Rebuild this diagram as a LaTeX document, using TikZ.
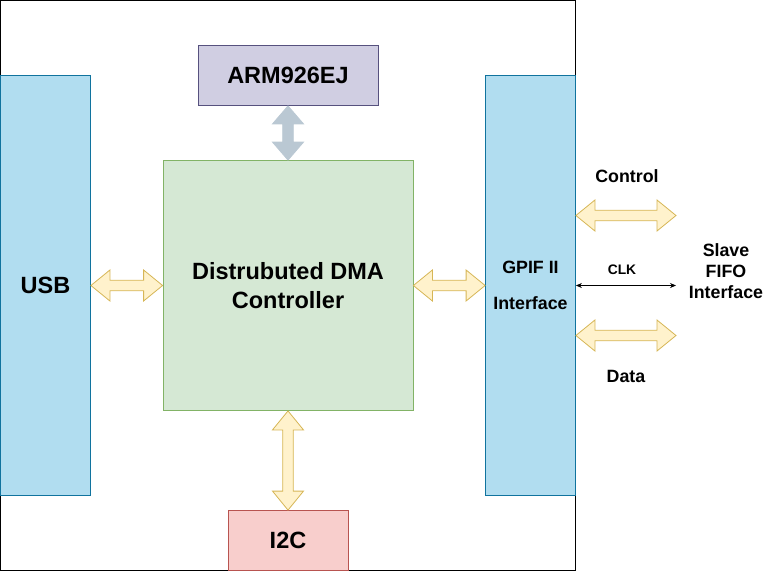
\documentclass[tikz,border=0pt]{standalone}
\usepackage{fontspec}
\setmainfont{Liberation Sans}
\usetikzlibrary{calc,arrows.meta}
\definecolor{bluef}{HTML}{B1DDF0}\definecolor{blued}{HTML}{10739E}
\definecolor{purf}{HTML}{D0CEE2}\definecolor{purd}{HTML}{56517E}
\definecolor{grnf}{HTML}{D5E8D4}\definecolor{grnd}{HTML}{82B366}
\definecolor{redf}{HTML}{F8CECC}\definecolor{redd}{HTML}{B85450}
\definecolor{yelf}{HTML}{FFF2CC}\definecolor{yeld}{HTML}{D6B656}
\definecolor{grayf}{HTML}{BAC8D3}
\newcommand{\hblock}[3]{%
 \path[#1] let \p1=(#2), \p2=(#3) in (\x1,\y1) -- (\x1+19pt,\y1+15.5pt) -- (\x1+19pt,\y1+5.3pt) -- (\x2-19pt,\y1+5.3pt) -- (\x2-19pt,\y1+15.5pt) -- (\x2,\y1) -- (\x2-19pt,\y1-15.5pt) -- (\x2-19pt,\y1-5.3pt) -- (\x1+19pt,\y1-5.3pt) -- (\x1+19pt,\y1-15.5pt) -- cycle;}
\newcommand{\vblock}[4]{%
 \path[#1] let \p1=(#2), \p2=(#3) in (\x1,\y1) -- (\x1+15.5pt,\y1-#4) -- (\x1+5.3pt,\y1-#4) -- (\x1+5.3pt,\y2+#4) -- (\x1+15.5pt,\y2+#4) -- (\x1,\y2) -- (\x1-15.5pt,\y2+#4) -- (\x1-5.3pt,\y2+#4) -- (\x1-5.3pt,\y1-#4) -- (\x1-15.5pt,\y1-#4) -- cycle;}
\tikzset{
 box/.style={draw, line width=0.8pt, inner sep=0pt, align=center, font=\bfseries\fontsize{23.5}{29}\selectfont},
 ylw/.style={draw=yeld, fill=yelf, line width=0.8pt, line join=miter},
 gry/.style={draw=grayf, fill=grayf, line width=0.8pt},
 lbl/.style={font=\bfseries\fontsize{17.8}{21}\selectfont, align=center, inner sep=0pt}
}
\begin{document}
\begin{tikzpicture}[x=1pt,y=-1pt]
\useasboundingbox (0,0) rectangle (765,571);
\draw[line width=0.8pt] (0.5,0.5) rectangle (575.5,570.5);
\node[box, fill=bluef, draw=blued, minimum width=90pt, minimum height=420pt] (usb) at (45.5,285.5) {USB};
\node[box, fill=bluef, draw=blued, minimum width=90pt, minimum height=420pt, font=\bfseries\fontsize{17.8}{36}\selectfont] (gpif) at (530.5,285.5) {GPIF II\\Interface};
\node[box, fill=purf, draw=purd, minimum width=180pt, minimum height=60pt] (arm) at (288,75.5) {ARM926EJ};
\node[box, fill=grnf, draw=grnd, minimum width=250pt, minimum height=250pt] (dma) at (288,285.5) {Distrubuted DMA\\Controller};
\node[box, fill=redf, draw=redd, minimum width=120pt, minimum height=60pt] (i2c) at (288,540.5) {I2C};
\hblock{ylw}{usb.east}{dma.west}
\hblock{ylw}{dma.east}{gpif.west}
\vblock{gry}{arm.south}{dma.north}{18pt}
\vblock{ylw}{dma.south}{i2c.north}{19pt}
\coordinate (ctlR) at (676,215.5);
\coordinate (datR) at (676,335.5);
\coordinate (clkR) at (676,285.5);
\hblock{ylw}{gpif.east |- ctlR}{ctlR}
\hblock{ylw}{gpif.east |- datR}{datR}
\draw[line width=0.8pt, {Stealth[length=6pt,width=5pt]}-{Stealth[length=6pt,width=5pt]}] (gpif.east |- clkR) -- (clkR);
\node[lbl] (ctl) at (627,176) {Control};
\node[lbl] (dat) at (626,376) {Data};
\node[lbl, font=\bfseries\fontsize{13.8}{15}\selectfont] (clk) at (622,270) {CLK};
\node[lbl] (slave) at (726,271) {Slave\\FIFO\\Interface};
\end{tikzpicture}
\end{document}
